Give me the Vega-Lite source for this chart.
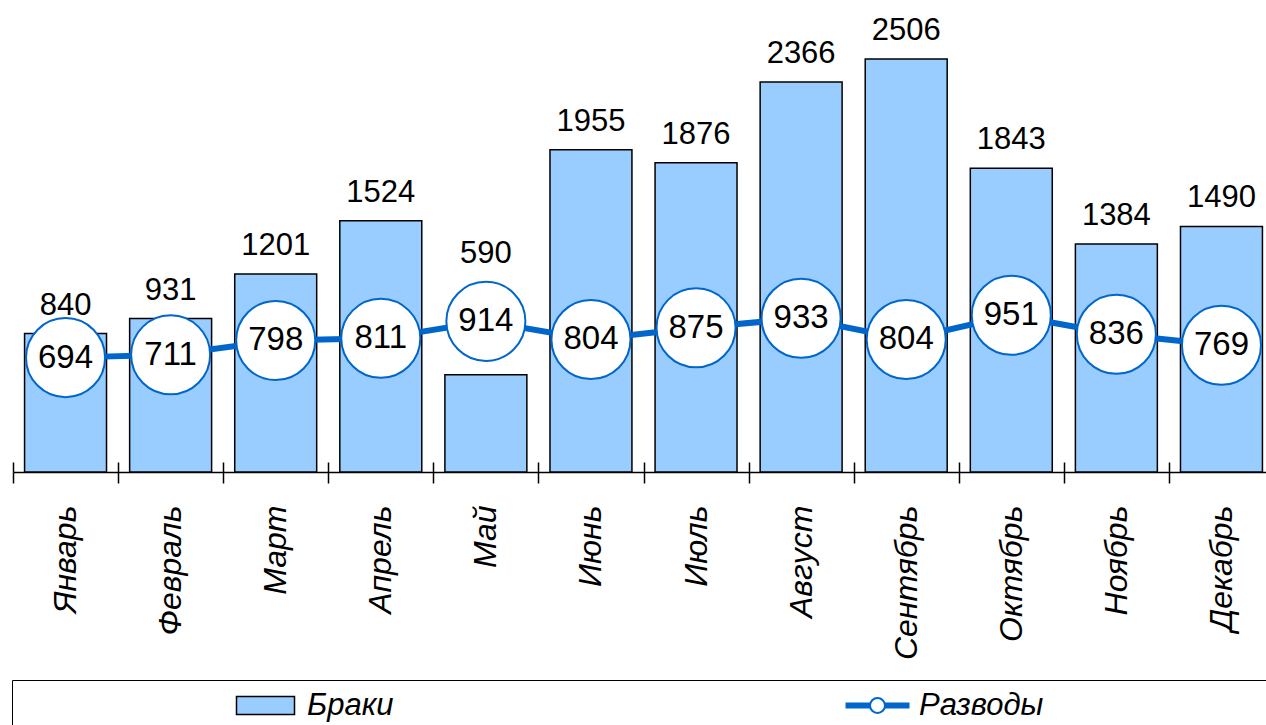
{
  "$schema": "https://vega.github.io/schema/vega-lite/v6.json",
  "width": 1253,
  "height": 472,
  "autosize": {"type": "none"},
  "padding": {"left": 13, "top": 0, "right": 0, "bottom": 253},
  "background": "white",
  "config": {"view": {"stroke": null}, "font": "Liberation Sans"},
  "data": {
    "values": [
      {"month": "Январь", "marriages": 840, "divorces": 694},
      {"month": "Февраль", "marriages": 931, "divorces": 711},
      {"month": "Март", "marriages": 1201, "divorces": 798},
      {"month": "Апрель", "marriages": 1524, "divorces": 811},
      {"month": "Май", "marriages": 590, "divorces": 914},
      {"month": "Июнь", "marriages": 1955, "divorces": 804},
      {"month": "Июль", "marriages": 1876, "divorces": 875},
      {"month": "Август", "marriages": 2366, "divorces": 933},
      {"month": "Сентябрь", "marriages": 2506, "divorces": 804},
      {"month": "Октябрь", "marriages": 1843, "divorces": 951},
      {"month": "Ноябрь", "marriages": 1384, "divorces": 836},
      {"month": "Декабрь", "marriages": 1490, "divorces": 769}
    ]
  },
  "layer": [
    {
      "mark": {"type": "bar", "width": {"band": 0.78}, "stroke": "black", "strokeWidth": 1.5},
      "encoding": {
        "x": {
          "field": "month", "type": "nominal", "sort": null,
          "scale": {"range": [0, 1261], "paddingInner": 0, "paddingOuter": 0},
          "axis": {
            "orient": "bottom", "title": null, "tickBand": "extent", "tickSize": 11,
            "tickColor": "black", "tickWidth": 1.5, "domainColor": "black", "domainWidth": 1.5,
            "labelAngle": -90, "labelAlign": "right", "labelBaseline": "middle",
            "labelFontSize": 32, "labelFontStyle": "italic", "labelColor": "black",
            "labelPadding": 22, "labelFont": "Liberation Sans", "labelLimit": 400
          }
        },
        "y": {"field": "marriages", "type": "quantitative", "scale": {"domain": [0, 2864], "nice": false, "zero": true}, "axis": null},
        "fill": {
          "datum": "Браки",
          "scale": {"domain": ["Браки"], "range": ["#99CCFF"]},
          "legend": {
            "title": null, "orient": "none", "legendX": -1, "legendY": 680,
            "direction": "horizontal",
            "symbolSize": 400, "symbolOffset": 228, "labelOffset": 26,
            "symbolType": "M-2.9,-0.9H2.9V0.9H-2.9Z",
            "symbolStrokeColor": "black", "symbolStrokeWidth": 1.5,
            "labelFontSize": 31, "labelFontStyle": "italic", "labelColor": "black",
            "labelFont": "Liberation Sans", "labelLimit": 3000,
            "labelExpr": "datum.label + '\u00a0\u00a0\u00a0\u00a0\u00a0\u00a0\u00a0\u00a0\u00a0\u00a0\u00a0\u00a0\u00a0\u00a0\u00a0\u00a0\u00a0\u00a0\u00a0\u00a0\u00a0\u00a0\u00a0\u00a0\u00a0\u00a0\u00a0\u00a0\u00a0\u00a0\u00a0\u00a0\u00a0\u00a0\u00a0\u00a0\u00a0\u00a0\u00a0\u00a0\u00a0\u00a0\u00a0\u00a0\u00a0\u00a0\u00a0\u00a0\u00a0\u00a0\u00a0\u00a0\u00a0\u00a0\u00a0\u00a0\u00a0\u00a0\u00a0\u00a0\u00a0\u00a0\u00a0\u00a0\u00a0\u00a0\u00a0\u00a0\u00a0\u00a0\u00a0\u00a0\u00a0\u00a0\u00a0\u00a0\u00a0\u00a0\u00a0\u00a0\u00a0\u00a0\u00a0\u00a0\u00a0\u00a0\u00a0\u00a0\u00a0\u00a0\u00a0\u00a0\u00a0\u00a0\u00a0\u00a0\u00a0\u00a0\u00a0\u00a0\u00a0\u00a0\u00a0\u00a0\u00a0\u00a0\u00a0\u00a0\u00a0\u00a0\u00a0\u00a0\u00a0\u00a0\u00a0\u00a0\u00a0\u200b'",
            "strokeColor": "black", "padding": 10
          }
        }
      }
    },
    {
      "mark": {"type": "text", "dy": {"expr": "datum.month === 'Май' ? -112 : -19"}, "baseline": "alphabetic", "fontSize": 31, "color": "black", "font": "Liberation Sans"},
      "encoding": {
        "x": {"field": "month", "type": "nominal", "sort": null,
          "axis": {"orient": "top", "offset": -472, "domain": false, "labels": false, "tickBand": "extent", "tickSize": 10, "tickColor": "black", "tickWidth": 1.5, "title": null}},
        "y": {"field": "marriages", "type": "quantitative"},
        "text": {"field": "marriages", "type": "quantitative"}
      }
    },
    {
      "mark": {"type": "line", "strokeWidth": 6, "color": "#0066CC"},
      "encoding": {
        "x": {"field": "month", "type": "nominal", "sort": null, "axis": null},
        "y": {"field": "divorces", "type": "quantitative"}
      }
    },
    {
      "mark": {"type": "point", "shape": "circle", "size": 6250, "filled": true, "fill": "white", "strokeWidth": 2, "opacity": 1},
      "encoding": {
        "x": {"field": "month", "type": "nominal", "sort": null, "axis": null},
        "y": {"field": "divorces", "type": "quantitative"},
        "stroke": {
          "datum": "Разводы",
          "scale": {"domain": ["Разводы"], "range": ["#0066CC"]},
          "legend": {
            "title": null, "orient": "none", "legendX": 849, "legendY": 690,
            "direction": "horizontal", "padding": 0,
            "symbolSize": 400, "symbolOffset": 0, "labelOffset": 26,
            "symbolType": "M-3.2,-0.2H-0.75M-3.2,0H-0.75M-3.2,0.2H-0.75M0.75,-0.2H3.2M0.75,0H3.2M0.75,0.2H3.2M0.75,0A0.75,0.75 0 1,1 -0.75,0A0.75,0.75 0 1,1 0.75,0Z",
            "symbolStrokeWidth": 2, "symbolFillColor": "white",
            "labelFontSize": 31, "labelFontStyle": "italic", "labelColor": "black",
            "labelFont": "Liberation Sans", "labelLimit": 1000
          }
        }
      }
    },
    {
      "mark": {"type": "text", "baseline": "middle", "fontSize": 33, "color": "black", "font": "Liberation Sans"},
      "encoding": {
        "x": {"field": "month", "type": "nominal", "sort": null, "axis": null},
        "y": {"field": "divorces", "type": "quantitative"},
        "text": {"field": "divorces", "type": "quantitative"}
      }
    }
  ]
}
